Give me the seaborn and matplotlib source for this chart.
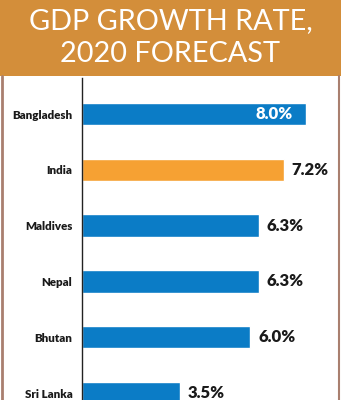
import matplotlib
matplotlib.use("Agg")
import matplotlib.pyplot as plt
import seaborn as sns
import pandas as pd
from matplotlib.lines import Line2D
from matplotlib.patches import Rectangle
from matplotlib import font_manager

countries = ["Bangladesh", "India", "Maldives", "Nepal", "Bhutan", "Sri Lanka"]
growth = [8.0, 7.2, 6.3, 6.3, 6.0, 3.5]
labels = ["8.0%", "7.2%", "6.3%", "6.3%", "6.0%", "3.5%"]
highlight = "India"
title_lines = ["GDP GROWTH RATE,", "2020 FORECAST"]

BLUE = "#0B7CC6"
ORANGE = "#F6A133"
BAND = "#D38E3A"
BORDER = "#A97F6F"

sns.set_style("white")
names = {f.name for f in font_manager.fontManager.ttflist}

def pick(cands):
    for c in cands:
        if c in names:
            return c
    return "DejaVu Sans"

TITLE_FONT = pick(["Lato", "Roboto", "Open Sans", "DejaVu Sans"])
BOLD_FONT = pick(["Lato", "Roboto", "Open Sans", "DejaVu Sans"])

W, H = 341, 400
fig = plt.figure(figsize=(W / 100, H / 100), dpi=100)
fig.patch.set_facecolor("white")
renderer = fig.canvas.get_renderer()

def fx(px):
    return px / W

def fy(py):
    return 1 - py / H

def fit(t, target_px):
    bb = t.get_window_extent(renderer=renderer)
    t.set_fontsize(t.get_fontsize() * target_px / bb.width)

# title band
fig.patches.append(Rectangle((0, fy(76)), 1, 76 / H, transform=fig.transFigure,
                             facecolor=BAND, edgecolor="none", zorder=0))
t1 = fig.text(0.5, fy(21), title_lines[0], ha="center", va="center", color="white",
              fontsize=22, family=TITLE_FONT, fontweight="normal")
fit(t1, 283)
t2 = fig.text(0.5, fy(54), title_lines[1], ha="center", va="center", color="white",
              fontsize=22, family=TITLE_FONT, fontweight="normal")
t2.set_fontsize(t1.get_fontsize())

# side borders
fig.lines.append(Line2D([fx(1.5), fx(1.5)], [fy(76), 0], transform=fig.transFigure,
                        color=BORDER, lw=2))
fig.lines.append(Line2D([fx(338.5), fx(338.5)], [fy(76), 0], transform=fig.transFigure,
                        color=BORDER, lw=1.5))

df = pd.DataFrame({"country": countries, "growth": growth})
palette = {c: (ORANGE if c == highlight else BLUE) for c in countries}

ax_left, ax_right = 82, 337
ax_top, ax_bot = 78, 400
ax = fig.add_axes([fx(ax_left), fy(ax_bot), (ax_right - ax_left) / W, (ax_bot - ax_top) / H])
sns.barplot(data=df, x="growth", y="country", hue="country", palette=palette,
            order=countries, width=0.4, legend=False, ax=ax, saturation=1)

px_per_unit = 28.05
ax.set_xlim(0, (ax_right - ax_left) / px_per_unit)
spacing = 55.8
c0 = 114
ax.set_ylim((ax_bot - c0) / spacing, (ax_top - c0) / spacing)

vals = []
for i, (v, lab) in enumerate(zip(growth, labels)):
    if i == 0:
        t = ax.text(v - 0.5, i, lab, ha="right", va="center", color="white",
                    fontsize=11, fontweight="heavy", family=BOLD_FONT)
    else:
        t = ax.text(v + 0.28, i, lab, ha="left", va="center", color="#1a1a1a",
                    fontsize=11, fontweight="heavy", family=BOLD_FONT)
    vals.append(t)
fit(vals[1], 37)
for t in vals:
    t.set_fontsize(vals[1].get_fontsize())

ax.set_xlabel("")
ax.set_ylabel("")
ax.set_xticks([])
ax.tick_params(axis="y", length=0, pad=7)
ticks = ax.get_yticklabels()
for t in ticks:
    t.set_fontsize(9)
    t.set_fontweight("heavy")
    t.set_family(BOLD_FONT)
    t.set_color("#1a1a1a")
fit(ticks[0], 60)
for t in ticks:
    t.set_fontsize(ticks[0].get_fontsize())
for s in ["top", "right", "bottom"]:
    ax.spines[s].set_visible(False)
ax.spines["left"].set_color("#222222")
ax.spines["left"].set_linewidth(1)
ax.set_facecolor("none")

fig.savefig("out.png", dpi=100)
